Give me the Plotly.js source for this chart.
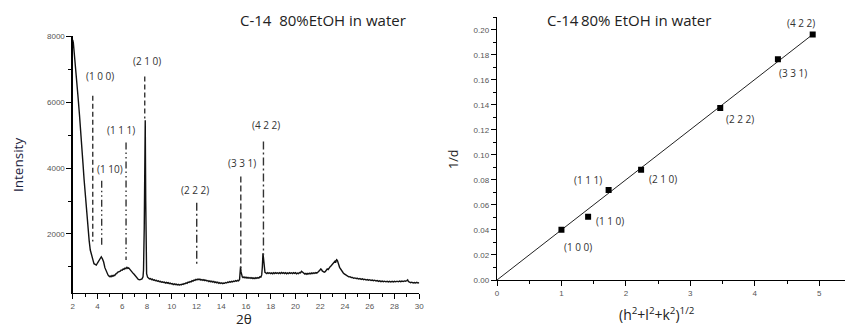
<!DOCTYPE html>
<html><head><meta charset="utf-8">
<script src="https://cdn.plot.ly/plotly-3.0.1.min.js"></script>
<style>html,body{margin:0;padding:0;background:#fff;}#chart{width:846px;height:329px;}</style>
</head><body><div id="chart"></div>
<script>
// ---- XRD pattern (left): [2θ, intensity] ----
const xrdPoints = [
[2.00,7880],[2.05,7800],[2.12,7500],[2.21,7170],[2.30,6700],[2.43,6160],[2.55,5600],[2.65,5150],[2.75,4600],[2.83,4140],
[2.92,3650],[3.02,3130],[3.12,2600],[3.24,2120],[3.33,1800],[3.42,1515],[3.52,1330],[3.64,1210],[3.72,1100],[3.80,1080],
[3.91,1060],[4.00,1120],[4.10,1180],[4.20,1280],[4.31,1310],[4.40,1250],[4.50,1150],[4.60,980],[4.66,920],[4.72,860],
[4.78,800],[4.85,760],[4.92,730],[4.99,710],[5.05,725],[5.10,705],[5.18,740],[5.25,720],[5.33,750],[5.40,745],
[5.48,790],[5.55,800],[5.62,840],[5.70,850],[5.76,880],[5.84,870],[5.92,910],[6.00,900],[6.08,945],[6.15,930],
[6.22,965],[6.30,950],[6.38,990],[6.45,960],[6.52,975],[6.60,930],[6.68,910],[6.75,880],[6.82,840],[6.90,800],
[6.96,780],[7.03,750],[7.12,700],[7.20,660],[7.30,625],[7.42,610],[7.52,625],[7.60,640],[7.68,700],[7.72,900],
[7.78,2200],[7.82,3500],[7.86,5450],[7.90,3000],[7.93,1500],[7.97,800],[8.05,690],[8.12,660],[8.20,640],[8.28,650],
[8.36,615],[8.44,630],[8.52,600],[8.60,610],[8.68,585],[8.76,595],[8.84,570],[8.92,580],[9.00,555],[9.08,565],
[9.16,540],[9.24,550],[9.32,530],[9.40,545],[9.48,515],[9.56,535],[9.64,510],[9.72,525],[9.80,495],[9.88,510],
[9.96,485],[10.04,500],[10.12,470],[10.20,490],[10.28,465],[10.36,480],[10.44,455],[10.52,475],[10.60,450],[10.68,470],
[10.76,455],[10.84,485],[10.92,470],[11.00,500],[11.08,490],[11.16,520],[11.24,505],[11.32,540],[11.40,530],[11.48,560],
[11.56,550],[11.64,585],[11.72,570],[11.80,605],[11.88,595],[11.96,625],[12.04,610],[12.12,635],[12.20,615],[12.28,630],
[12.36,600],[12.44,620],[12.52,595],[12.60,615],[12.68,585],[12.76,605],[12.84,575],[12.92,590],[13.00,560],[13.08,580],
[13.16,550],[13.24,570],[13.32,540],[13.40,560],[13.48,530],[13.56,550],[13.64,520],[13.72,540],[13.80,505],[13.88,525],
[13.96,500],[14.04,520],[14.12,495],[14.20,515],[14.28,505],[14.36,530],[14.44,515],[14.52,545],[14.60,530],[14.68,555],
[14.76,540],[14.84,565],[14.92,550],[15.00,575],[15.08,560],[15.16,585],[15.24,570],[15.32,595],[15.40,580],[15.48,620],
[15.53,800],[15.56,1010],[15.60,850],[15.64,720],[15.70,700],[15.76,680],[15.84,700],[15.92,670],[16.00,690],[16.08,665],
[16.16,685],[16.24,660],[16.32,680],[16.40,655],[16.48,675],[16.56,650],[16.64,670],[16.72,650],[16.80,675],[16.88,655],
[16.96,680],[17.04,665],[17.12,700],[17.20,690],[17.27,760],[17.32,1000],[17.37,1415],[17.42,1250],[17.47,950],[17.53,840],
[17.60,820],[17.68,800],[17.76,830],[17.84,805],[17.92,825],[18.00,800],[18.08,820],[18.16,795],[18.24,825],[18.32,800],
[18.40,830],[18.48,805],[18.56,825],[18.64,800],[18.72,830],[18.80,805],[18.88,835],[18.96,810],[19.04,830],[19.12,800],
[19.20,825],[19.28,795],[19.36,820],[19.44,800],[19.52,830],[19.60,805],[19.68,825],[19.76,800],[19.84,830],[19.92,805],
[20.00,825],[20.08,795],[20.16,815],[20.24,800],[20.32,830],[20.40,820],[20.48,870],[20.54,850],[20.60,810],[20.68,800],
[20.76,785],[20.84,805],[20.92,780],[21.00,805],[21.08,790],[21.16,815],[21.24,795],[21.32,820],[21.40,800],[21.48,825],
[21.56,805],[21.64,830],[21.72,815],[21.80,840],[21.88,860],[21.96,900],[22.04,940],[22.10,925],[22.16,880],[22.24,860],
[22.32,840],[22.40,860],[22.48,900],[22.56,940],[22.64,920],[22.72,980],[22.80,1010],[22.88,1040],[22.96,1070],[23.04,1110],
[23.12,1140],[23.20,1180],[23.26,1160],[23.32,1220],[23.38,1200],[23.44,1150],[23.50,1060],[23.56,990],[23.62,950],[23.70,900],
[23.78,860],[23.86,820],[23.94,790],[24.02,770],[24.10,740],[24.20,720],[24.30,700],[24.40,705],[24.50,680],[24.60,685],
[24.70,660],[24.80,670],[24.90,650],[25.00,660],[25.10,635],[25.20,650],[25.30,625],[25.40,640],[25.50,615],[25.60,630],
[25.70,605],[25.80,620],[25.90,600],[26.00,615],[26.10,590],[26.20,605],[26.30,585],[26.40,600],[26.50,575],[26.60,590],
[26.70,565],[26.80,580],[26.90,555],[27.00,575],[27.10,555],[27.20,570],[27.30,550],[27.40,568],[27.50,548],[27.60,565],
[27.70,545],[27.80,565],[27.90,548],[28.00,568],[28.10,550],[28.20,570],[28.30,552],[28.40,572],[28.50,555],[28.60,575],
[28.70,558],[28.80,578],[28.90,570],[29.00,590],[29.06,610],[29.12,560],[29.20,545],[29.30,525],[29.40,540],[29.50,515],
[29.60,530],[29.70,515],[29.80,535],[29.90,515],[30.00,525]
];
const twoTheta = xrdPoints.map(p => p[0]);
const intensity = xrdPoints.map(p => p[1]);

// Miller index marker lines on the XRD pattern
const peakLabels = ["(1 0 0)","(1 10)","(1 1 1)","(2 1 0)","(2 2 2)","(3 3 1)","(4 2 2)"];
const peakPos    = [3.62, 4.34, 6.31, 7.82, 12.02, 15.58, 17.41];
const peakTop    = [6190, 3615, 4770, 6770, 2950, 3740, 4800];
const peakBottom = [1770, 1610, 1210, 5500, 1030, 970, 1365];
const peakLabelX = [4.17, 5.02, 5.88, 8.00, 11.86, 15.69, 17.64];
const peakLabelY = [6790, 3970, 5150, 7230, 3330, 4160, 5290];
const peakDash   = ["5px,3px","7px,3px,1.5px,3px,1.5px,3px","7px,3px,1.5px,3px,1.5px,3px","5px,3px","8px,3px,2px,3px","6px,3px","8px,3px,2px,3px"];

// ---- 1/d vs sqrt(h2+l2+k2) (right) ----
const hklRoot = [1.0, 1.414, 1.732, 2.236, 3.464, 4.359, 4.899];
const invD    = [0.0402, 0.0506, 0.0719, 0.0881, 0.1374, 0.1764, 0.1963];
const hklLabels = ["(1 0 0)","(1 1 0)","(1 1 1)","(2 1 0)","(2 2 2)","(3 3 1)","(4 2 2)"];
const hklLabelX = [1.255, 1.752, 1.415, 2.569, 3.767, 4.594, 4.724];
const hklLabelY = [0.0262, 0.0472, 0.0799, 0.0805, 0.1286, 0.1651, 0.2054];
const fitX = [0, 4.899];
const fitY = [0, 0.1963];

const W = 846, H = 329;
const px = v => v / W, py = v => 1 - v / H;
const tickFont = {family: "Liberation Sans, Arial, sans-serif", size: 8, color: "#555"};
const lblFont = {family: "Open Sans, sans-serif", size: 10, color: "#333"};

const traces = [];
traces.push({x: twoTheta, y: intensity, xaxis: "x", yaxis: "y", mode: "lines",
  line: {color: "#111", width: 1.4}, hoverinfo: "skip", showlegend: false});
for (let i = 0; i < peakPos.length; i++) {
  traces.push({x: [peakPos[i], peakPos[i]], y: [peakTop[i], peakBottom[i]], xaxis: "x", yaxis: "y",
    mode: "lines", line: {color: "#333", width: 1.4, dash: peakDash[i]}, showlegend: false, hoverinfo: "skip"});
}
traces.push({x: fitX, y: fitY, xaxis: "x2", yaxis: "y2", mode: "lines",
  line: {color: "#222", width: 1}, showlegend: false, hoverinfo: "skip"});
traces.push({x: hklRoot, y: invD, xaxis: "x2", yaxis: "y2", mode: "markers",
  marker: {symbol: "square", size: 6, color: "#000"}, showlegend: false, hoverinfo: "skip"});

const annotations = [];
const ann = o => annotations.push(Object.assign({showarrow: false, xanchor: "center", yanchor: "middle"}, o));
for (let i = 0; i < peakLabels.length; i++) {
  ann({x: peakLabelX[i], y: peakLabelY[i], xref: "x", yref: "y", text: peakLabels[i], font: lblFont});
}
for (let i = 0; i < hklLabels.length; i++) {
  ann({x: hklLabelX[i], y: hklLabelY[i], xref: "x2", yref: "y2", text: hklLabels[i], font: lblFont});
}
ann({x: px(323), y: py(20), xref: "paper", yref: "paper", text: "C-14\u00a0\u00a080%EtOH in water",
  font: {family: "Open Sans, sans-serif", size: 15, color: "#222"}});
ann({x: px(629), y: py(20), xref: "paper", yref: "paper", text: "C-14\u200980% EtOH in water",
  font: {family: "Open Sans, sans-serif", size: 15, color: "#222"}});
ann({x: px(18), y: py(165), xref: "paper", yref: "paper", text: "Intensity", textangle: -90,
  font: {family: "Open Sans, sans-serif", size: 13.5, color: "#1c2340"}});
ann({x: px(244), y: 0, xref: "paper", yref: "paper", yanchor: "bottom", borderpad: 0, text: "2\u03b8",
  font: {family: "Open Sans, sans-serif", size: 13.5, color: "#222"}});
ann({x: px(453), y: py(160), xref: "paper", yref: "paper", text: "1/d", textangle: -90,
  font: {family: "Open Sans, sans-serif", size: 12.5, color: "#222"}});
ann({x: px(657), y: py(314), xref: "paper", yref: "paper",
  text: "(h<sup>2</sup>+l<sup>2</sup>+k<sup>2</sup>)<sup>1/2</sup>",
  font: {family: "Open Sans, sans-serif", size: 14, color: "#222"}});

const axBase = {showgrid: false, zeroline: false, showline: true, linecolor: "#000", linewidth: 1.3,
  ticks: "outside", ticklen: 5, tickwidth: 1, tickcolor: "#000", tickfont: tickFont, mirror: false};

const layout = {
  width: W, height: H, margin: {l: 0, r: 0, t: 0, b: 0},
  paper_bgcolor: "#fff", plot_bgcolor: "#fff", showlegend: false,
  xaxis: Object.assign({}, axBase, {domain: [px(72.7), px(419.3)], range: [2, 30], tick0: 2, dtick: 2,
    anchor: "y", minor: {dtick: 1, ticks: "outside", ticklen: 3, tickcolor: "#000"}}),
  yaxis: Object.assign({}, axBase, {domain: [py(292.7), py(36)], range: [221, 8000], tick0: 0, dtick: 2000,
    anchor: "x", minor: {dtick: 1000, ticks: "outside", ticklen: 3, tickcolor: "#000"}}),
  xaxis2: Object.assign({}, axBase, {domain: [px(497), px(845)], range: [0, 5.4], tick0: 0, dtick: 1,
    anchor: "y2", minor: {dtick: 0.5, ticks: "outside", ticklen: 3, tickcolor: "#000"}}),
  yaxis2: Object.assign({}, axBase, {domain: [py(280), py(17.3)], range: [0, 0.21], tick0: 0, dtick: 0.02,
    tickformat: ".2f", anchor: "x2", minor: {dtick: 0.01, ticks: "outside", ticklen: 3, tickcolor: "#000"}}),
  annotations: annotations
};

Plotly.newPlot("chart", traces, layout, {staticPlot: true, displayModeBar: false});
</script>
</body></html>
